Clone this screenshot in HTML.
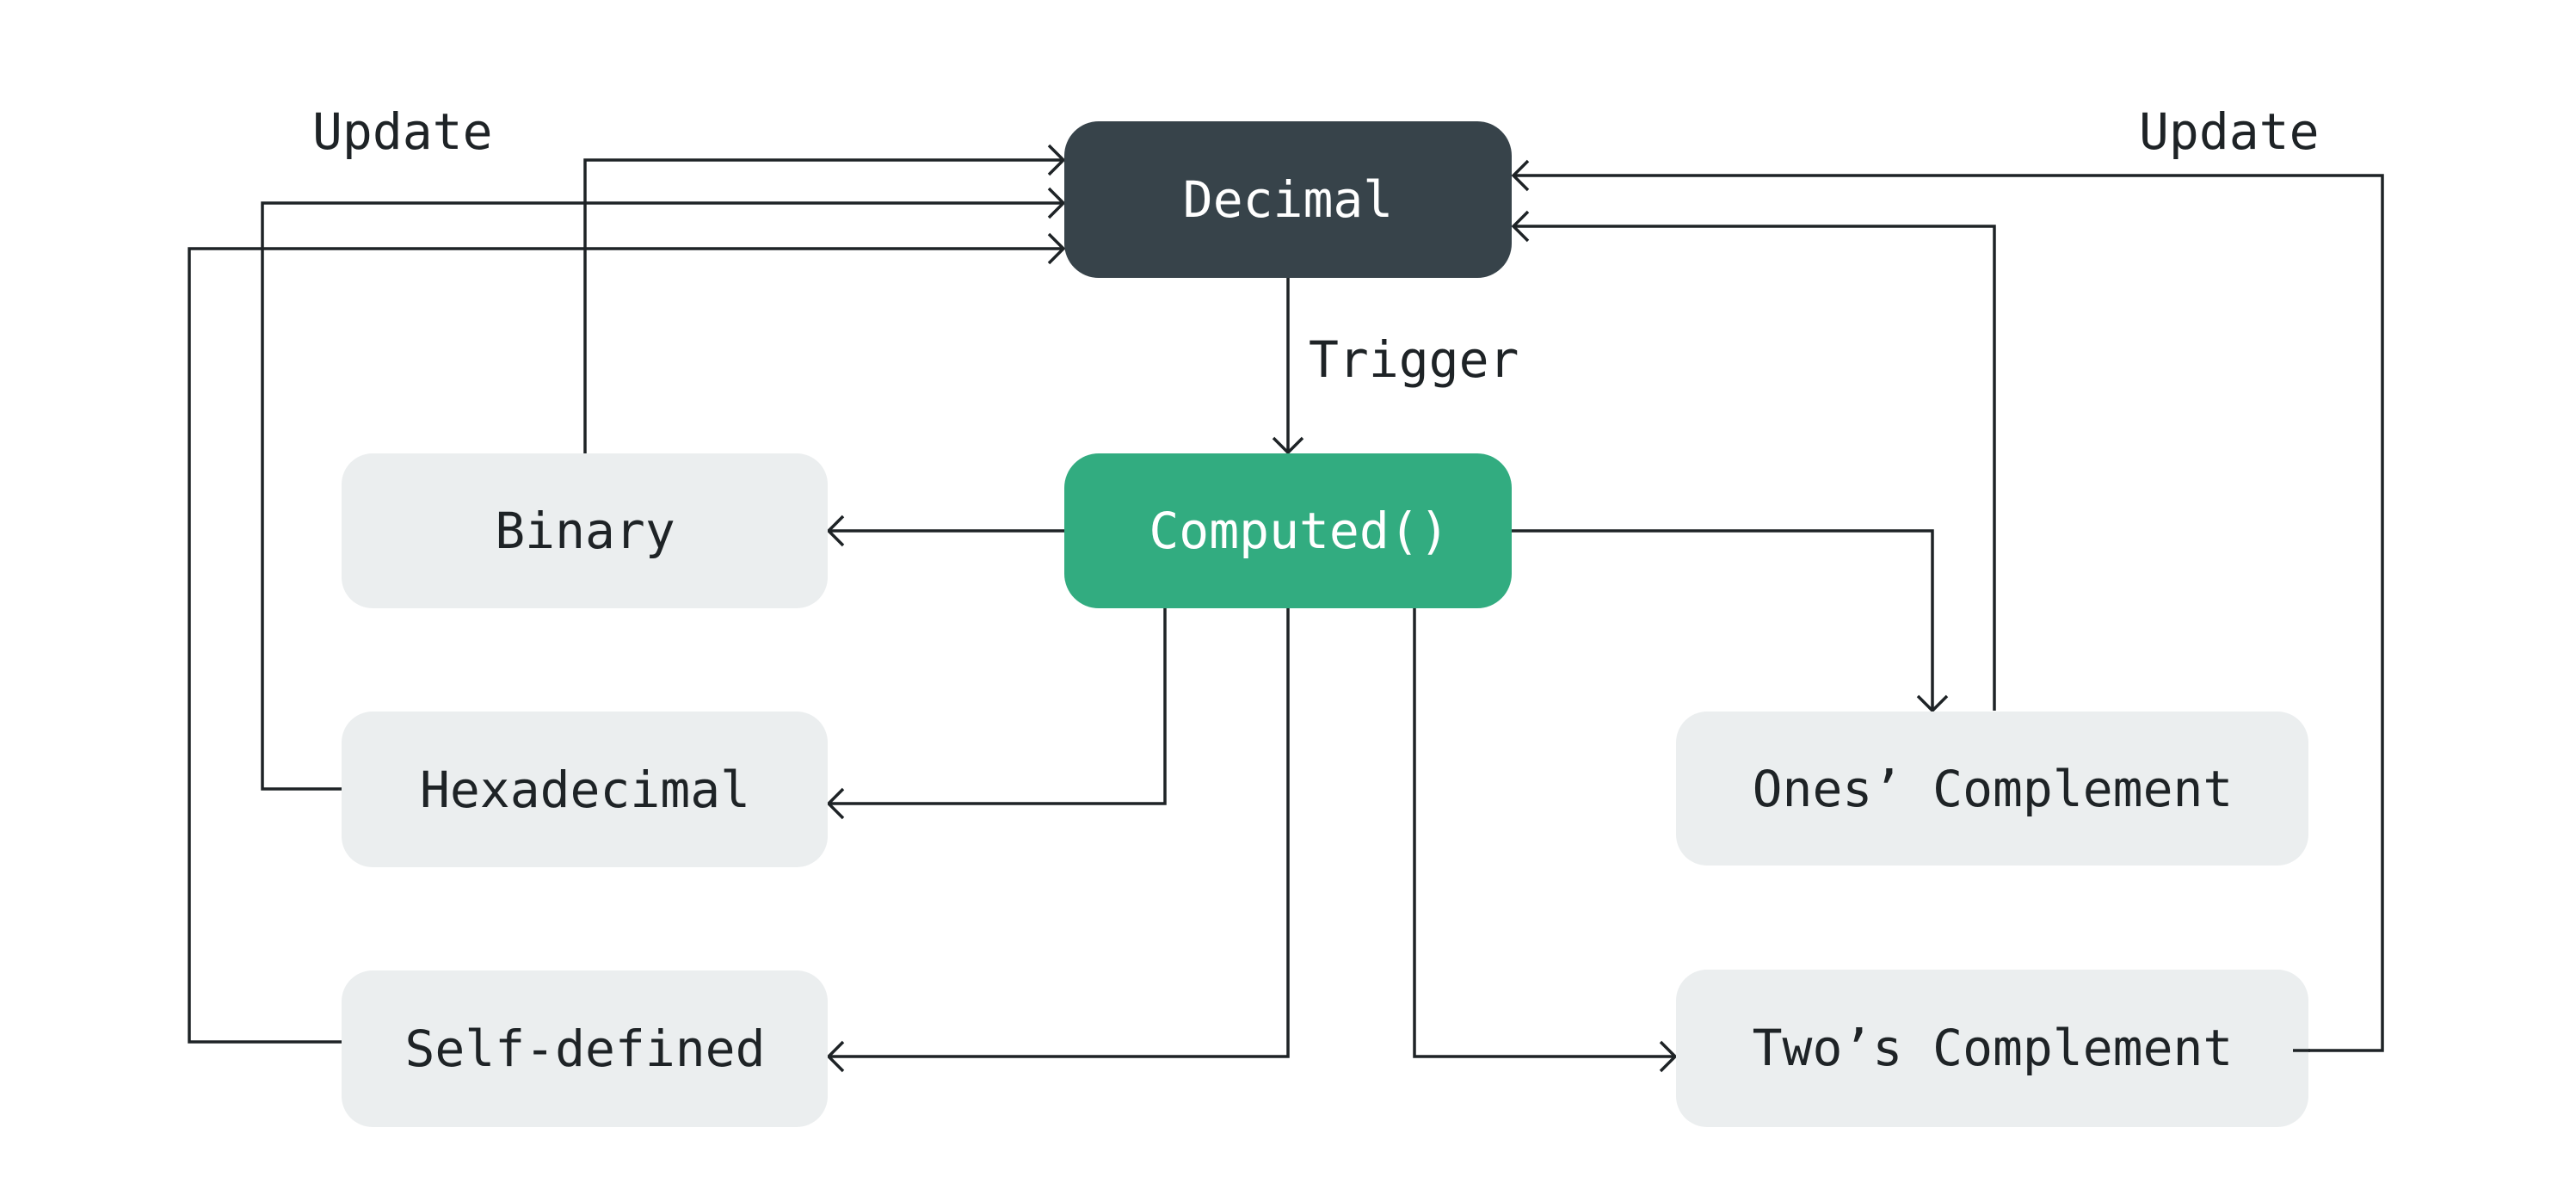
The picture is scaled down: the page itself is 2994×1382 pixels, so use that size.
<!DOCTYPE html>
<html><head><meta charset="utf-8"><style>
html,body{margin:0;padding:0;background:#fff;}
svg{display:block;}
text{font-family:"DejaVu Sans Mono","Liberation Mono",monospace;font-size:58px;}
</style></head><body>
<svg width="2994" height="1382" viewBox="0 0 2994 1382" xmlns="http://www.w3.org/2000/svg">
<g fill="none" stroke="#1e2326" stroke-width="3.5">
<polyline points="680,527 680,186 1236,186"/>
<polyline points="1219,169 1236,186 1219,203"/>
<polyline points="397,917 305,917 305,236 1236,236"/>
<polyline points="1219,219 1236,236 1219,253"/>
<polyline points="397,1211 220,1211 220,289 1236,289"/>
<polyline points="1219,272 1236,289 1219,306"/>
<polyline points="1497,323 1497,526"/>
<polyline points="1480,509 1497,526 1514,509"/>
<polyline points="1237,617 963,617"/>
<polyline points="980,600 963,617 980,634"/>
<polyline points="1354,707 1354,934 963,934"/>
<polyline points="980,917 963,934 980,951"/>
<polyline points="1497,707 1497,1228 963,1228"/>
<polyline points="980,1211 963,1228 980,1245"/>
<polyline points="1644,707 1644,1228 1947,1228"/>
<polyline points="1930,1211 1947,1228 1930,1245"/>
<polyline points="1757,617 2246,617 2246,826"/>
<polyline points="2229,809 2246,826 2263,809"/>
<polyline points="2318,826 2318,263 1759,263"/>
<polyline points="1776,246 1759,263 1776,280"/>
<polyline points="2683,1221 2769,1221 2769,204 1759,204"/>
<polyline points="1776,187 1759,204 1776,221"/>
</g>
<rect x="1237" y="141" width="520" height="182" rx="40" fill="#37434a"/>
<rect x="1237" y="527" width="520" height="180" rx="40" fill="#32ac80"/>
<rect x="397" y="527" width="565" height="180" rx="36" fill="#ebeeef"/>
<rect x="397" y="827" width="565" height="181" rx="36" fill="#ebeeef"/>
<rect x="397" y="1128" width="565" height="182" rx="36" fill="#ebeeef"/>
<rect x="1948" y="827" width="735" height="179" rx="36" fill="#ebeeef"/>
<rect x="1948" y="1127" width="735" height="183" rx="36" fill="#ebeeef"/>
<line x1="2665" y1="1221" x2="2685" y2="1221" stroke="#1e2326" stroke-width="3.5"/>
<g text-anchor="middle" fill="#1e2326">
<text x="1497" y="252" fill="#ffffff">Decimal</text>
<text x="1510" y="637" fill="#ffffff">Computed()</text>
<text x="680" y="637">Binary</text>
<text x="680" y="938">Hexadecimal</text>
<text x="680" y="1239">Self-defined</text>
<text x="2316" y="937">Ones’ Complement</text>
<text x="2316" y="1238">Two’s Complement</text>
</g>
<g fill="#1e2326">
<text x="1521" y="438">Trigger</text>
<text x="363" y="173">Update</text>
<text x="2486" y="173">Update</text>
</g>
</svg>
</body></html>
